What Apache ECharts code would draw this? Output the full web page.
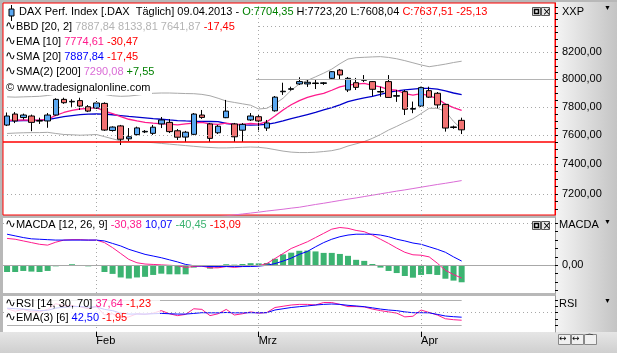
<!DOCTYPE html>
<html>
<head>
<meta charset="utf-8">
<script src="https://cdn.jsdelivr.net/npm/echarts@6/dist/echarts.min.js"></script>
<style>
html, body { margin: 0; padding: 0; background: #fff; }
#chart { width: 617px; height: 353px; }
</style>
</head>
<body>
<div id="chart"></div>
<script>
// trading days shown, plus empty days on the right
var dates = [
  '2013-01-17','2013-01-18','2013-01-21','2013-01-22','2013-01-23','2013-01-24','2013-01-25','2013-01-28','2013-01-29','2013-01-30','2013-01-31',
  '2013-02-01','2013-02-04','2013-02-05','2013-02-06','2013-02-07','2013-02-08','2013-02-11','2013-02-12','2013-02-13','2013-02-14','2013-02-15',
  '2013-02-18','2013-02-19','2013-02-20','2013-02-21','2013-02-22','2013-02-25','2013-02-26','2013-02-27','2013-02-28',
  '2013-03-01','2013-03-04','2013-03-05','2013-03-06','2013-03-07','2013-03-08','2013-03-11','2013-03-12','2013-03-13','2013-03-14','2013-03-15',
  '2013-03-18','2013-03-19','2013-03-20','2013-03-21','2013-03-22','2013-03-25','2013-03-26','2013-03-27','2013-03-28',
  '2013-04-02','2013-04-03','2013-04-04','2013-04-05','2013-04-08','2013-04-09',
  '2013-04-10','2013-04-11','2013-04-12','2013-04-15','2013-04-16','2013-04-17','2013-04-18','2013-04-19','2013-04-22','2013-04-23','2013-04-24'
];
var monthStarts = ['2013-02-01', '2013-03-01', '2013-04-02'];
var monthNames = { '02': 'Feb', '03': 'Mrz', '04': 'Apr' };

var opens  = [7671,7749,7724,7735,7699,7700,7742,7854,7836,7845,7801,7792,7825,7633,7665,7575,7604,7623,7613,7679,7690,7631,7587,7606,7742,7679,7617,7723,7679,7635,7707,7730,7650,7772,7909,7927,7966,7966,7969,7970,8007,8068,7922,7975,7993,7983,7907,7983,7877,7910,7784,7806,7917,7898,7818,7654,7704.35];
var closes = [7735,7700,7742,7690,7703,7742,7854,7830,7840,7806,7770,7828,7636,7657,7572,7589,7651,7627,7656,7707,7625,7586,7621,7749,7725,7578,7663,7770,7589,7676,7735,7700,7686,7870,7913,7931,7983,7978,7973,7974,8056,8032,8007,7941,7997,7927,7911,7868,7881,7783,7788,7939,7870,7814,7650,7658,7637.51];
var lows   = [7664,7685,7710,7628,7679,7652,7738,7822,7800,7778,7763,7785,7630,7625,7532,7560,7598,7615,7602,7650,7615,7567,7553,7600,7715,7553,7608,7720,7553,7553,7700,7625,7630,7766,7886,7917,7958,7944,7929,7959,8002,7995,7907,7922,7980,7878,7873,7866,7836,7742,7755,7800,7864,7790,7625,7645,7608.04];
var highs  = [7760,7763,7752,7745,7723,7756,7862,7866,7855,7866,7813,7842,7833,7662,7672,7650,7660,7636,7672,7728,7713,7643,7630,7756,7778,7686,7672,7850,7686,7685,7756,7742,7707,7878,7975,7946,8015,7995,7995,7980,8061,8076,8017,8010,8031,7987,7946,8031,7922,7922,7838,7946,7946,7907,7822,7667,7723.20];

var bbUpper = [7872,7870,7872,7874,7876,7882,7892,7900,7903,7905,7903,7900,7890,7880,7876,7878,7884,7892,7898,7900,7900,7898,7896,7895,7890,7880,7862,7842,7832,7822,7812,7785,7790,7822,7862,7920,7965,7992,8018,8045,8075,8115,8150,8160,8163,8166,8168,8162,8152,8138,8122,8106,8093,8102,8112,8124,8133.81];
var bbLower = [7612,7615,7617,7618,7618,7620,7612,7605,7603,7600,7602,7605,7590,7575,7560,7556,7555,7552,7548,7543,7538,7533,7528,7523,7518,7515,7512,7512,7514,7516,7518,7516,7510,7500,7490,7483,7480,7480,7482,7487,7493,7505,7525,7540,7556,7578,7605,7636,7662,7690,7716,7752,7790,7790,7768,7697,7641.87];
var sma20 = [7700,7700,7702,7703,7705,7710,7720,7730,7738,7745,7748,7750,7748,7744,7738,7732,7727,7722,7716,7712,7707,7703,7700,7698,7697,7696,7695,7682,7676,7672,7671,7672,7676,7686,7700,7716,7730,7745,7760,7778,7795,7815,7838,7852,7865,7875,7890,7905,7915,7922,7928,7933,7934,7928,7915,7900,7887.84];
var ema10 = [7705,7705,7707,7705,7705,7712,7740,7760,7775,7785,7790,7795,7770,7752,7730,7712,7700,7690,7684,7680,7678,7672,7680,7685,7690,7680,7676,7685,7676,7676,7682,7678,7695,7735,7778,7815,7845,7868,7885,7897,7920,7945,7958,7965,7970,7955,7945,7925,7920,7895,7885,7895,7880,7860,7820,7795,7774.61];
var sma200 = [null,null,null,null,null,null,null,null,null,null,null,null,null,null,null,null,null,null,null,null,null,null,null,null,null,null,
  7052,7058,7064,7070,7076,7082,7089,7095,7101,7108,7114,7123,7132,7140,7149,7158,7167,7175,7184,7193,7202,7211,7220,7228,7237,7246,7255,7264,7272,7281,7290.08];

var macdHist = [-16,-16,-13.5,-15,-16,-13.5,-2.5,-0.5,2.5,0.5,-2.5,-1,-16,-20.5,-29,-31.5,-29,-27.5,-23,-20,-21.5,-21.5,-21.5,-5.5,0.5,-8,-5.5,2.5,1.5,3,5,4.5,5.5,15.5,26,30,34.5,35,33,29.5,29.5,27,22.5,13,10.5,3,-5.5,-13.5,-18.5,-25.5,-29.5,-23,-21,-23,-32,-36.5,-40.45];
var macdLine = [64,62,58,54,50,48,55,60,61,61,60,60,54,42,28,14,6,3,2,1,0,-1,-5,-3,-2,-6,-6,-3,-5,-3,-2,-1,4,16,28,40,48,56,66,76,86,90,88,83,80,72,62,52,41,31,25,24,20,5,-12,-22,-30.38];
var macdSignal = [74,70,66,63,62,61,60,60,60,60,60,60,58,52,46,38,32,26,22,18,13,8,2,-1,-2,-3,-3,-3,-3,-3,-3,-2,0,4,10,17,26,33,44,54,62,68,72,74,74,74,72,68,62,58,53,50,44,38,31,20,10.07];

var rsi = [56,52,55,51,51,55,64,61,61,59,56,60,46,48,41,43,48,47,49,53,48,45,47,56,55,45,48,55,46,48,51,49,50,58,60,62,63,63,62,66,66,63,59.5,59.5,59,55.5,53,51,49,43,44,54,50,46,40,38.5,37.64];
var rsiEma = [57,56,55.5,54,53,53.5,57,58.5,59.5,59.5,58.5,59,55,53,49,47.5,47.6,47.5,48,48.6,48,47.5,47.5,48.5,49.7,49.5,49.5,50,49.5,49.5,49.7,49.5,49.7,54,56,58,59.3,60.5,62,63,63.6,63,61.5,60.5,59.3,57.5,55.5,54,53,51,49.7,49.7,49.5,47,44.4,43.3,42.5];

var priceTicks = [8200, 8000, 7800, 7600, 7400, 7200];
var priceGrid = [8400, 8200, 7800, 7600, 7400, 7200];
var priceMinor = [7100,7150,7200,7250,7300,7350,7400,7450,7500,7550,7600,7650,7700,7750,7800,7850,7900,7950,8000,8050,8100,8150,8200,8250,8300,8350,8400,8450,8500,8550];
var supportLevel = 7553;
var macdTicks = [0];
var macdMinor = [-60,-40,-20,0,20,40,60,80,100];
var rsiMinor = [30,40,50,60,70];

var FONT = 'Liberation Sans';
var chart = echarts.init(document.getElementById('chart'));

function fmt(v) {
  return v.toFixed(2).replace('.', ',');
}

var candleData = [];
for (var i = 0; i < opens.length; i++) {
  candleData.push([opens[i], closes[i], lows[i], highs[i]]);
}
var lastIdx = closes.length - 1;

function isMonthStart(idx, val) {
  return monthStarts.indexOf(val) >= 0;
}

function monthLines() {
  return monthStarts.map(function (d) { return { xAxis: d }; });
}

var dotted = { color: '#a8a8a8', type: [1, 3], width: 1 };

function xAxisFor(g, bottom) {
  return {
    type: 'category',
    gridIndex: g,
    data: dates,
    boundaryGap: true,
    axisLine: { show: false },
    axisTick: {
      show: bottom, alignWithLabel: true, interval: isMonthStart, length: 5,
      lineStyle: { color: '#000' }
    },
    axisLabel: {
      show: bottom, interval: isMonthStart, align: 'left', margin: 3,
      fontSize: 11, fontFamily: FONT, color: '#000',
      formatter: function (v) { return monthNames[v.slice(5, 7)]; }
    },
    splitLine: { show: false }
  };
}

function lineSeries(name, data, color, x, y, width) {
  return {
    name: name, type: 'line', data: data, xAxisIndex: x, yAxisIndex: y,
    showSymbol: false, symbol: 'none', connectNulls: false,
    lineStyle: { color: color, width: width || 1 },
    z: 3
  };
}

var option = {
  animation: false,
  backgroundColor: '#b8b8b8',
  textStyle: { fontFamily: FONT },
  grid: [
    { left: 3, top: 3, width: 552, height: 212, show: true, backgroundColor: '#fff', borderColor: '#ff0000', borderWidth: 1 },
    { left: 3, top: 218, width: 552, height: 75, show: true, backgroundColor: '#fff', borderWidth: 0 },
    { left: 3, top: 296, width: 552, height: 36, show: true, backgroundColor: '#fff', borderWidth: 0 }
  ],
  xAxis: [xAxisFor(0, false), xAxisFor(1, false), xAxisFor(2, true)],
  yAxis: [
    {
      type: 'log', logBase: 10, gridIndex: 0, position: 'right',
      min: 7063.5, max: 8580,
      axisLine: { show: true, lineStyle: { color: '#ff0000' } },
      axisTick: { show: true, customValues: priceMinor, length: 3, lineStyle: { color: '#000' } },
      axisLabel: { customValues: priceTicks, formatter: fmt, fontSize: 11, fontFamily: FONT, color: '#000', margin: 7 },
      splitLine: { show: false }
    },
    {
      type: 'value', gridIndex: 1, position: 'right', min: -66, max: 112.6,
      axisLine: { show: true, lineStyle: { color: '#9a9a9a' } },
      axisTick: { show: true, customValues: macdMinor, length: 3, lineStyle: { color: '#000' } },
      axisLabel: { customValues: macdTicks, formatter: fmt, fontSize: 11, fontFamily: FONT, color: '#000', margin: 7 },
      splitLine: { show: false }
    },
    {
      type: 'value', gridIndex: 2, position: 'right', min: 18.8, max: 76.4,
      axisLine: { show: true, lineStyle: { color: '#9a9a9a' } },
      axisTick: { show: true, customValues: rsiMinor, length: 3, lineStyle: { color: '#000' } },
      axisLabel: { show: false },
      splitLine: { show: false }
    }
  ],
  series: [
    // gridlines of the price panel
    {
      type: 'line', data: [], xAxisIndex: 0, yAxisIndex: 0, z: 1,
      markLine: {
        silent: true, symbol: 'none', label: { show: false },
        data: priceGrid.map(function (v) { return { yAxis: v, lineStyle: dotted }; })
          .concat([{ yAxis: 8000, lineStyle: { color: '#b4b4b4', type: 'solid', width: 1 } }])
          .concat(monthLines().map(function (m) { m.lineStyle = dotted; return m; }))
          .concat([{ yAxis: supportLevel, lineStyle: { color: '#ff0000', type: 'solid', width: 1.5 } }])
      }
    },
    lineSeries('SMA(2) [200]', sma200, '#da6cd6', 0, 0),
    lineSeries('BBD upper', bbUpper, '#a8a8a8', 0, 0),
    lineSeries('BBD lower', bbLower, '#a8a8a8', 0, 0),
    lineSeries('SMA [20]', sma20, '#0000cc', 0, 0, 1.3),
    lineSeries('EMA [10]', ema10, '#ff1a8c', 0, 0, 1.3),
    {
      name: 'DAX', type: 'candlestick', data: candleData, xAxisIndex: 0, yAxisIndex: 0,
      barWidth: 6, z: 4,
      itemStyle: {
        color: '#5aa8f2', color0: '#f27272',
        borderColor: '#000', borderColor0: '#000', borderWidth: 1
      },
      markLine: {
        silent: true, symbol: 'none',
        lineStyle: { opacity: 0 },
        label: {
          show: true, position: 'end', distance: 5,
          formatter: function () { return fmt(closes[lastIdx]); },
          backgroundColor: '#fff', borderColor: '#000', borderWidth: 1,
          padding: [2, 3, 1, 6], color: '#000', fontSize: 12, fontFamily: FONT
        },
        data: [{ yAxis: closes[lastIdx] }]
      }
    },

    // MACD panel
    {
      type: 'line', data: [], xAxisIndex: 1, yAxisIndex: 1, z: 1,
      markLine: {
        silent: true, symbol: 'none', label: { show: false },
        data: [
          { yAxis: 100, lineStyle: dotted },
          { yAxis: 0, lineStyle: { color: '#a8a8a8', type: 'solid', width: 1 } }
        ].concat(monthLines().map(function (m) { m.lineStyle = dotted; return m; }))
      }
    },
    {
      name: 'MACDA hist', type: 'bar', data: macdHist, xAxisIndex: 1, yAxisIndex: 1,
      barWidth: 6, itemStyle: { color: '#3cb371' }, z: 2
    },
    lineSeries('MACD', macdLine, '#ff1a8c', 1, 1),
    lineSeries('Signal', macdSignal, '#0000ff', 1, 1),

    // RSI panel
    {
      type: 'line', data: [], xAxisIndex: 2, yAxisIndex: 2, z: 1,
      markLine: {
        silent: true, symbol: 'none', label: { show: false },
        data: [
          { yAxis: 50, lineStyle: dotted },
          [{ coord: [dates[0], 70], lineStyle: { color: '#b0b0b0', type: 'solid', width: 1.2 } }, { coord: [dates[lastIdx], 70] }],
          [{ coord: [dates[0], 30], lineStyle: { color: '#b0b0b0', type: 'solid', width: 1.2 } }, { coord: [dates[lastIdx], 30] }]
        ].concat(monthLines().map(function (m) { m.lineStyle = dotted; return m; }))
      }
    },
    lineSeries('RSI', rsi, '#ff1a8c', 2, 2),
    lineSeries('EMA(3)', rsiEma, '#0000ff', 2, 2)
  ],
  title: [],
  graphic: []
};

// legend texts
var rich = {
  ic: { fontFamily: 'DejaVu Sans', fontSize: 13, color: '#000' },
  g: { color: '#008000', fontSize: 11 },
  lg: { color: '#b4b4b4', fontSize: 11 },
  r: { color: '#ff0000', fontSize: 11 },
  p: { color: '#ff1a8c', fontSize: 11 },
  b: { color: '#0000ff', fontSize: 11 },
  v: { color: '#da6cd6', fontSize: 11 },
  gr: { color: '#3cb371', fontSize: 11 }
};
function label(x, y, text, z) {
  return {
    left: x, top: y, padding: 0, z: z || 20, text: text,
    textStyle: { fontSize: 11, fontFamily: FONT, fontWeight: 'normal', color: '#000', rich: rich }
  };
}
option.title = [
  label(19, 6, 'DAX Perf. Index [.DAX  Täglich] 09.04.2013 - {g|O:7704,35} H:7723,20 L:7608,04 {r|C:7637,51 -25,13}'),
  label(5, 20, '{ic|∿}BBD [20, 2] {lg|7887,84 8133,81 7641,87} {r|-17,45}'),
  label(5, 35, '{ic|∿}EMA [10] {p|7774,61} {r|-30,47}'),
  label(5, 50, '{ic|∿}SMA [20] {b|7887,84} {r|-17,45}'),
  label(5, 65, '{ic|∿}SMA(2) [200] {v|7290,08} {g|+7,55}'),
  label(6, 82, '© www.tradesignalonline.com'),
  label(5, 218, '{ic|∿}MACDA [12, 26, 9] {p|-30,38} {b|10,07} {gr|-40,45} {r|-13,09}'),
  label(5, 297, '{ic|∿}RSI [14, 30, 70] {p|37,64} {r|-1,23}'),
  label(5, 311, '{ic|∿}EMA(3) [6] {b|42,50} {r|-1,95}'),
  label(562, 6, 'XXP'),
  label(559, 219, 'MACDA'),
  label(559, 298, 'RSI'),
  label(604, 5, '▼'),
  label(604, 219, '▼'),
  label(604, 298, '▼')
];
option.title[12].textStyle.fontSize = 7;
option.title[13].textStyle.fontSize = 7;
option.title[14].textStyle.fontSize = 7;

option.graphic = [
  // right axis panel and bottom time band
  {
    type: 'rect', z: -5, shape: { x: 556, y: 2, width: 61, height: 330 },
    style: { fill: new echarts.graphic.LinearGradient(0, 0, 1, 0, [
      { offset: 0, color: '#f4f4f4' }, { offset: 1, color: '#c4c4c4' }
    ]) }
  },
  {
    type: 'rect', z: -5, shape: { x: 0, y: 332, width: 617, height: 21 },
    style: { fill: new echarts.graphic.LinearGradient(0, 0, 0, 1, [
      { offset: 0, color: '#e6e6e6' }, { offset: 1, color: '#cfcfcf' }
    ]) }
  },
  // legend backgrounds
  { type: 'rect', z: 10, shape: { x: 4, y: 4, width: 252, height: 76 }, style: { fill: '#fff' } },
  { type: 'rect', z: 10, shape: { x: 4, y: 80, width: 148, height: 15 }, style: { fill: '#fff' } },
  { type: 'rect', z: 10, shape: { x: 4, y: 218, width: 248, height: 14 }, style: { fill: '#fff' } },
  { type: 'rect', z: 10, shape: { x: 4, y: 297, width: 156, height: 28 }, style: { fill: 'rgba(255,255,255,0.8)' } },
  // header candle icon
  { type: 'line', z: 30, shape: { x1: 11.5, y1: 5, x2: 11.5, y2: 21 }, style: { stroke: '#000', lineWidth: 1 } },
  { type: 'rect', z: 31, shape: { x: 9, y: 9, width: 5, height: 7 }, style: { fill: '#5aa8f2', stroke: '#000', lineWidth: 1 } },
  // panel buttons
  { type: 'rect', z: 30, shape: { x: 532.5, y: 7.5, width: 8, height: 8 }, style: { fill: '#e8e8e8', stroke: '#555' } },
  { type: 'rect', z: 31, shape: { x: 534.5, y: 9.5, width: 4, height: 4 }, style: { fill: 'none', stroke: '#000', lineWidth: 1.5 } },
  { type: 'rect', z: 30, shape: { x: 541.5, y: 7.5, width: 8, height: 8 }, style: { fill: '#e8e8e8', stroke: '#555' } },
  { type: 'text', z: 31, x: 542.5, y: 7, style: { text: '×', font: '10px "DejaVu Sans"', fill: '#000' } },
  { type: 'rect', z: 30, shape: { x: 532.5, y: 221.5, width: 8, height: 8 }, style: { fill: '#e8e8e8', stroke: '#555' } },
  { type: 'rect', z: 31, shape: { x: 534.5, y: 223.5, width: 4, height: 4 }, style: { fill: 'none', stroke: '#000', lineWidth: 1.5 } },
  { type: 'rect', z: 30, shape: { x: 541.5, y: 221.5, width: 8, height: 8 }, style: { fill: '#e8e8e8', stroke: '#555' } },
  { type: 'text', z: 31, x: 542.5, y: 221, style: { text: '×', font: '10px "DejaVu Sans"', fill: '#000' } },
  // scroll buttons bottom right
  { type: 'rect', z: 30, shape: { x: 558.5, y: 334.5, width: 12, height: 10 }, style: { fill: '#f0f0f0', stroke: '#888' } },
  { type: 'rect', z: 30, shape: { x: 571.5, y: 334.5, width: 12, height: 10 }, style: { fill: '#f0f0f0', stroke: '#888' } },
  { type: 'rect', z: 30, shape: { x: 584.5, y: 334.5, width: 12, height: 10 }, style: { fill: '#f0f0f0', stroke: '#888' } },
  { type: 'text', z: 31, x: 559, y: 334, style: { text: '↔', font: '9px "DejaVu Sans"', fill: '#000' } },
  { type: 'text', z: 31, x: 572, y: 334, style: { text: '↔', font: '9px "DejaVu Sans"', fill: '#000' } },
  { type: 'text', z: 31, x: 585, y: 334, style: { text: '⌒', font: '9px "DejaVu Sans"', fill: '#000' } }
];

chart.setOption(option);
</script>
</body>
</html>
